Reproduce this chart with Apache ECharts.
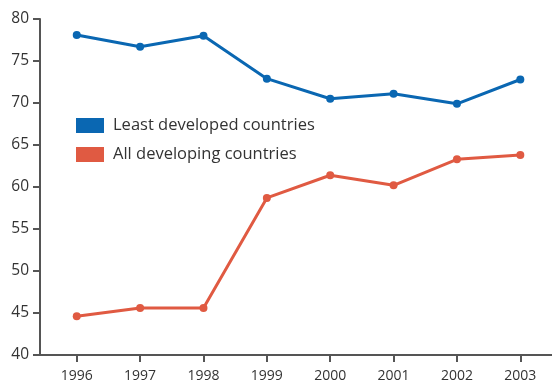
<!DOCTYPE html>
<html>
<head>
<meta charset="utf-8">
<script src="https://cdn.jsdelivr.net/npm/echarts@6/dist/echarts.min.js"></script>
<style>
  html, body { margin: 0; padding: 0; background: #fff; }
  #chart { width: 552px; height: 383px; }
</style>
</head>
<body>
<div id="chart"></div>
<script>
/* -------------------------------------------------------------------------- */
/*                   Least developed vs all developing countries              */
/* -------------------------------------------------------------------------- */

const years = [1996, 1997, 1998, 1999, 2000, 2001, 2002, 2003];
const leastDeveloped = [78.1, 76.7, 78.0, 72.9, 70.5, 71.1, 69.9, 72.8];
const allDeveloping = [44.6, 45.6, 45.6, 58.7, 61.4, 60.2, 63.3, 63.8];
const yTicks = [40, 45, 50, 55, 60, 65, 70, 75, 80];

const BLUE = '#0a67b2';
const RED = '#e05a42';
const AXIS = '#555555';
const TEXT = '#333333';

const toPairs = values => years.map((y, i) => [y, values[i]]);

const chart = echarts.init(document.getElementById('chart'));

const lineSeries = (name, color, values) => ({
  name,
  type: 'line',
  data: toPairs(values),
  symbol: 'circle',
  symbolSize: 8,
  color,
  lineStyle: { color, width: 3 },
  itemStyle: { color },
  emphasis: { disabled: true }
});

chart.setOption({
  animation: false,
  textStyle: { fontFamily: 'Open Sans' },
  grid: {
    left: 40,
    right: 0,
    top: 19,
    bottom: 28,
    containLabel: false
  },
  legend: {
    orient: 'vertical',
    left: 76,
    top: 117,
    padding: 0,
    icon: 'rect',
    itemWidth: 28,
    itemHeight: 15,
    itemGap: 12,
    textStyle: { color: TEXT, fontSize: 16.5, fontFamily: 'Open Sans', padding: [0, 0, 0, 4] },
    data: ['Least developed countries', 'All developing countries']
  },
  xAxis: {
    type: 'value',
    min: 1995.42,
    max: 2003.5,
    splitLine: { show: false },
    axisLine: { show: true, lineStyle: { color: AXIS, width: 2 } },
    axisTick: {
      show: true,
      customValues: years,
      length: 7,
      lineStyle: { color: AXIS, width: 2 }
    },
    axisLabel: {
      customValues: years,
      color: TEXT,
      fontSize: 14,
      margin: 14,
      formatter: v => String(v)
    }
  },
  yAxis: {
    type: 'value',
    min: 40,
    max: 80,
    interval: 5,
    splitLine: { show: false },
    axisLine: { show: true, lineStyle: { color: AXIS, width: 2 } },
    axisTick: {
      show: true,
      customValues: yTicks,
      length: 7,
      lineStyle: { color: AXIS, width: 2 }
    },
    axisLabel: {
      customValues: yTicks,
      color: TEXT,
      fontSize: 15.5,
      margin: 11
    }
  },
  series: [
    lineSeries('Least developed countries', BLUE, leastDeveloped),
    lineSeries('All developing countries', RED, allDeveloping)
  ]
});
</script>
</body>
</html>
